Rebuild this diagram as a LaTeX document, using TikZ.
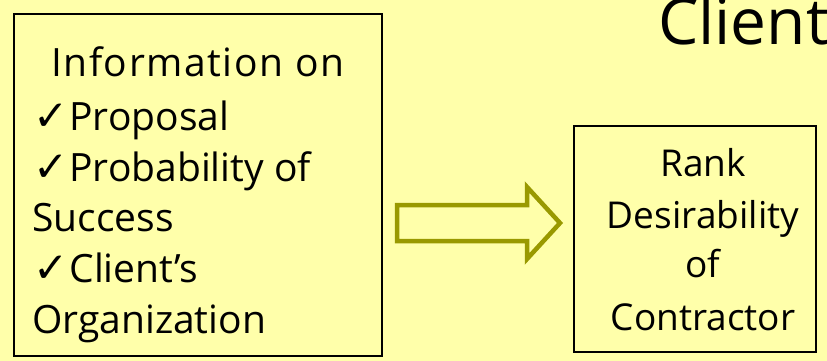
\documentclass[tikz,border=0pt]{standalone}
\usepackage{fontspec}
\setmainfont{Open Sans}[Ligatures=NoCommon]
\newfontfamily\symfont{DejaVu Sans}
\definecolor{paper}{HTML}{FFFFAA}
\definecolor{olivearrow}{HTML}{999900}
\newcommand{\tick}{{\symfont\fontsize{42}{42}\selectfont ✓}\hspace{1pt}}
\tikzset{
  panel/.style={draw=black, line width=1.6pt},
  listtext/.style={inner sep=0pt, anchor=base west, font=\fontsize{39}{51}\selectfont},
  ranktext/.style={inner sep=0pt, anchor=base, font=\fontsize{37}{51}\selectfont},
  fatarrow/.style={draw=olivearrow, line width=4.5pt, fill=paper, line join=miter}
}
\begin{document}
\begin{tikzpicture}[x=1pt, y=-1pt]
  \fill[paper] (0,0) rectangle (827,361);
  \useasboundingbox (0,0) rectangle (827,361);

  % title, running off the right edge
  \node[inner sep=0pt, anchor=base west, font=\fontsize{64}{64}\selectfont] (title) at (658,45) {Client};

  % left panel with the list of inputs
  \draw[panel] (14,14) rectangle (382,356);
  \node[listtext] (l1) at (51,77) {\addfontfeature{LetterSpace=4}Information on};
  \node[listtext] (l2) at (33,130) {\tick Proposal};
  \node[listtext] (l3) at (33,181) {\tick Probability of};
  \node[listtext] (l4) at (32,231) {Success};
  \node[listtext] (l5) at (33,282) {\tick Client’s};
  \node[listtext] (l6) at (32,333) {Organization};

  % block arrow
  \draw[fatarrow] (397,205) -- (527,205) -- (527,187) -- (560,223)
    -- (527,259) -- (527,241) -- (397,241) -- cycle;

  % right panel
  \draw[panel] (574,126) rectangle (816,352);
  \node[ranktext] (r1) at (703,176) {Rank};
  \node[ranktext] (r2) at (703,228) {Desirability};
  \node[ranktext] (r3) at (703,277) {of};
  \node[ranktext] (r4) at (703,330) {Contractor};
\end{tikzpicture}
\end{document}
